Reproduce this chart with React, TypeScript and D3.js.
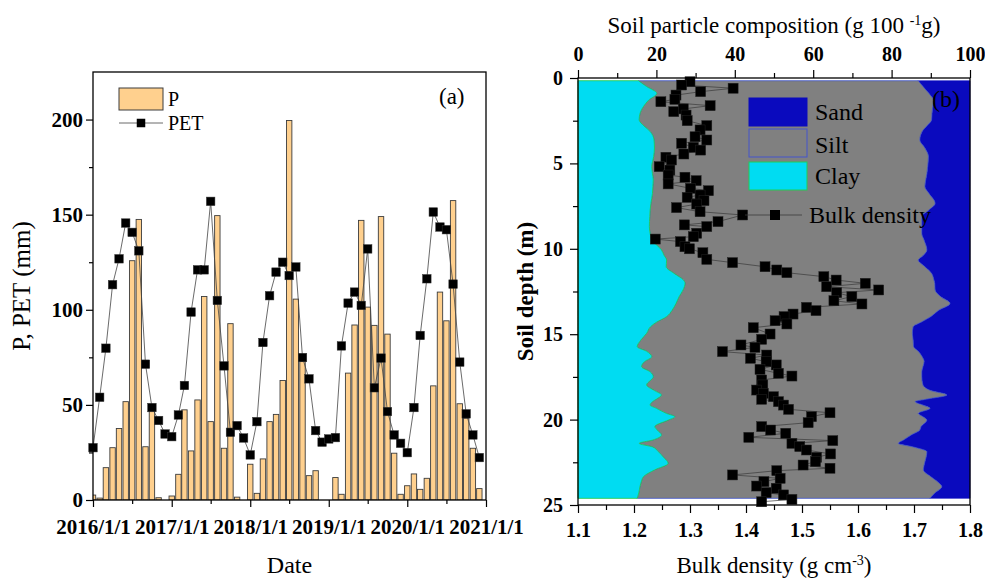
import * as d3 from "d3";
import { useEffect, useRef } from "react";

const FONT = "'Liberation Serif', 'Times New Roman', serif";

// ---- panel (a): monthly P and PET, 2016-2020 ----
const years = [2016, 2017, 2018, 2019, 2020];
const dateTickLabels = ["2016/1/1", "2017/1/1", "2018/1/1", "2019/1/1", "2020/1/1", "2021/1/1"];
const pTicks = [0, 50, 100, 150, 200];

// precipitation (mm), Jan..Dec for each year
const precip = [
  2.6, 1.0, 17, 27.5, 37.6, 51.7, 125.8, 147.5, 28, 48.5, 1.2, 0,
  2.1, 13.5, 47.4, 25.8, 52.6, 107, 41.2, 149.5, 27.2, 92.7, 1.5, 0,
  18.8, 3.5, 21.6, 41.2, 45, 62.8, 199.5, 105.6, 72.8, 12.8, 15.4, 0,
  0, 11.8, 3, 66.7, 92, 147, 101.4, 91.8, 149, 87.2, 24.6, 3,
  7.5, 13.7, 5.6, 11.4, 60, 109.3, 94.2, 157.4, 50.6, 43, 27.2, 6,
];

// potential evapotranspiration (mm)
const pet = [
  27.5, 54, 79.8, 113.2, 126.8, 145.6, 140.7, 131, 71.4, 48.6, 41.8, 34.7,
  33.3, 44.7, 60.2, 98.8, 121, 121, 157, 104.9, 70.5, 35.6, 39.1, 32.6,
  23.7, 41.2, 82.8, 107.4, 119.8, 125, 118, 122.5, 74.9, 63.7, 36.5, 30.4,
  32.1, 32.8, 81, 103.5, 109.3, 102.3, 132, 59, 74.6, 46.5, 34.2, 29.8,
  24.9, 48.6, 86.5, 116.3, 151.4, 143.5, 142.1, 113.5, 72.5, 45.3, 34.2, 22.3,
];

// ---- panel (b): soil profile ----
const depthTicks = [0, 5, 10, 15, 20, 25];
const compTicks = [0, 20, 40, 60, 80, 100];
const bdTicks = [1.1, 1.2, 1.3, 1.4, 1.5, 1.6, 1.7, 1.8];

const layerDepth = [
  0.16, 0.5, 0.9, 1.3, 1.67, 2.1, 2.45, 2.8, 3.13, 3.63,
  4.1, 4.6, 5.19, 5.6, 5.97, 6.36, 6.75, 7.34, 7.73, 8.12,
  8.7, 9.1, 9.5, 10.07, 10.4, 10.66, 11.05, 11.44, 11.83, 12.02,
  12.41, 12.8, 13.2, 13.6, 13.97, 14.3, 14.56, 14.95, 15.35, 15.73,
  16.0, 16.32, 16.6, 16.9, 17.2, 17.49, 17.97, 18.3, 18.56, 18.8,
  18.95, 19.15, 19.34, 19.64, 19.83, 20.03, 20.41, 20.61, 20.9, 21.2,
  21.39, 21.6, 21.88, 22.2, 22.56, 22.95, 23.34, 23.6, 23.93, 24.3,
  24.61,
];
const clay = [
  15.4, 17.5, 20.1, 18.0, 16.7, 15.8, 15.6, 16.8, 18.4, 19.4,
  19.5, 19.3, 18.8, 19.0, 19.2, 19.1, 19.0, 18.6, 18.4, 18.3,
  18.2, 18.4, 18.9, 21.3, 22.0, 22.6, 22.5, 24.5, 26.9, 27.3,
  26.8, 25.8, 25.0, 24.0, 22.6, 20.0, 18.5, 17.5, 16.0, 15.1,
  17.5, 18.8, 17.0, 16.2, 18.4, 19.2, 17.5, 19.5, 21.3, 20.0,
  19.0, 18.4, 20.0, 22.6, 24.7, 23.0, 19.6, 20.2, 21.3, 19.0,
  15.6, 19.0, 20.5, 21.8, 23.0, 19.5, 16.7, 16.2, 15.8, 15.5,
  15.1,
];
const sand = [
  13.2, 12.0, 10.5, 9.4, 9.5, 9.7, 9.8, 11.0, 12.2, 12.8,
  11.5, 10.6, 10.8, 11.0, 11.3, 11.5, 10.5, 8.9, 10.5, 12.3,
  12.3, 12.3, 11.7, 11.0, 12.0, 13.2, 11.5, 9.8, 9.2, 9.0,
  8.9, 7.5, 5.1, 8.0, 10.0, 12.5, 14.5, 14.7, 14.5, 14.4,
  13.2, 12.2, 11.7, 12.0, 12.3, 12.3, 12.0, 10.0, 5.9, 11.0,
  14.0, 12.0, 10.2, 13.2, 12.0, 11.0, 12.5, 12.8, 15.0, 17.0,
  18.3, 14.5, 11.0, 11.2, 11.6, 11.9, 10.0, 8.5, 7.2, 9.0,
  10.2,
];

const bdDepth = [
  0.22, 0.41, 0.6, 0.8, 1.0, 1.25, 1.39, 1.62, 1.81, 1.97,
  2.17, 2.5, 2.79, 3.04, 3.44, 3.63, 3.82, 4.06, 4.22, 4.45,
  4.64, 4.8, 5.19, 5.39, 5.68, 5.81, 6.01, 6.2, 6.46, 6.6,
  6.85, 6.99, 7.18, 7.38, 7.59, 7.83, 8.02, 8.41, 8.6, 8.7,
  9.09, 9.29, 9.43, 9.58, 9.88, 10.0, 10.23, 10.62, 10.81, 11.05,
  11.24, 11.4, 11.63, 11.83, 12.02, 12.22, 12.41, 12.57, 12.8, 13.04,
  13.23, 13.43, 13.62, 13.82, 13.97, 14.21, 14.4, 14.62, 14.99, 15.3,
  15.63, 15.77, 16.02, 16.22, 16.41, 16.61, 16.8, 17.06, 17.29, 17.45,
  17.68, 17.97, 18.27, 18.46, 18.66, 18.81, 18.95, 19.15, 19.4, 19.6,
  19.83, 20.18, 20.41, 20.61, 20.8, 21.04, 21.23, 21.39, 21.58, 21.78,
  22.01, 22.21, 22.46, 22.66, 22.85, 22.99, 23.24, 23.44, 23.63, 23.89,
  24.02, 24.28, 24.41, 24.67, 24.81,
];
const bulkDensity = [
  1.3, 1.285, 1.377, 1.319, 1.275, 1.273, 1.248, 1.336, 1.288, 1.271,
  1.293, 1.295, 1.33, 1.318, 1.309, 1.33, 1.285, 1.306, 1.319, 1.289,
  1.257, 1.267, 1.245, 1.264, 1.261, 1.291, 1.311, 1.261, 1.301, 1.333,
  1.318, 1.295, 1.325, 1.312, 1.276, 1.318, 1.394, 1.35, 1.29, 1.33,
  1.312, 1.306, 1.238, 1.283, 1.291, 1.299, 1.323, 1.33, 1.376, 1.434,
  1.455, 1.473, 1.539, 1.561, 1.613, 1.544, 1.637, 1.562, 1.589, 1.557,
  1.607, 1.508, 1.525, 1.484, 1.468, 1.452, 1.473, 1.413, 1.443, 1.428,
  1.391, 1.416, 1.358, 1.437, 1.408, 1.436, 1.454, 1.425, 1.458, 1.482,
  1.428, 1.43, 1.419, 1.431, 1.449, 1.428, 1.458, 1.467, 1.476, 1.55,
  1.517, 1.511, 1.428, 1.444, 1.471, 1.405, 1.555, 1.482, 1.496, 1.508,
  1.551, 1.526, 1.524, 1.502, 1.55, 1.455, 1.376, 1.461, 1.432, 1.419,
  1.454, 1.436, 1.467, 1.482, 1.428,
];

const barColor = "#FFD08E";
const sandColor = "#0A0ABE";
const siltColor = "#808080";
const clayColor = "#00DCF2";

type Sel = d3.Selection<SVGGElement, unknown, null, undefined>;

function styleAxis(g: Sel, size: number, bold: boolean) {
  g.select(".domain").remove();
  g.selectAll("line").attr("stroke", "#000").attr("stroke-width", 1.2);
  g.selectAll("text")
    .attr("font-family", FONT)
    .attr("font-size", size)
    .attr("font-weight", bold ? "bold" : "normal")
    .attr("fill", "#000");
}

function drawA(svg: d3.Selection<SVGSVGElement, unknown, null, undefined>) {
  const L = 93, R = 486, T = 72, B = 500;
  const months = years.flatMap((y) => d3.range(12).map((m) => new Date(y, m, 1)));
  const x = d3.scaleTime().domain([new Date(2016, 0, 1), new Date(2021, 0, 1)]).range([L, R]);
  const y = d3.scaleLinear().domain([0, 225]).range([B, T]);

  const g = svg.append("g");
  g.append("clipPath").attr("id", "clipA")
    .append("rect").attr("x", L).attr("y", T).attr("width", R - L).attr("height", B - T);

  const plot = g.append("g").attr("clip-path", "url(#clipA)");
  const bw = 5.4;
  plot.selectAll("rect").data(precip).join("rect")
    .attr("x", (_, i) => x(months[i]) - bw / 2)
    .attr("y", (d) => y(d))
    .attr("width", bw)
    .attr("height", (d) => y(0) - y(d))
    .attr("fill", barColor)
    .attr("stroke", "#3c3c3c")
    .attr("stroke-width", 0.9);

  const line = d3.line<number>().x((_, i) => x(months[i])).y((d) => y(d));
  g.append("path").datum(pet).attr("d", line).attr("fill", "none")
    .attr("stroke", "#444").attr("stroke-width", 0.8);
  const ms = 8.5;
  g.selectAll("rect.pet").data(pet).join("rect").attr("class", "pet")
    .attr("x", (_, i) => x(months[i]) - ms / 2)
    .attr("y", (d) => y(d) - ms / 2)
    .attr("width", ms).attr("height", ms)
    .attr("fill", "#000").attr("stroke", "#333").attr("stroke-width", 0.5);

  // axes
  const yearDates = dateTickLabels.map((_, i) => new Date(2016 + i, 0, 1));
  const gx = g.append("g").attr("transform", `translate(0,${B})`)
    .call(d3.axisBottom(x).tickValues(yearDates).tickFormat((_, i) => dateTickLabels[i])
      .tickSize(7).tickPadding(12));
  styleAxis(gx as Sel, 21, true);
  const gxm = g.append("g").attr("transform", `translate(0,${B})`)
    .call(d3.axisBottom(x).tickValues(years.map((yy) => new Date(yy, 6, 1))).tickFormat(() => "").tickSize(4));
  styleAxis(gxm as Sel, 21, true);

  const gy = g.append("g").attr("transform", `translate(${L},0)`)
    .call(d3.axisLeft(y).tickValues(pTicks).tickSize(7).tickPadding(3));
  styleAxis(gy as Sel, 21, true);
  const gym = g.append("g").attr("transform", `translate(${L},0)`)
    .call(d3.axisLeft(y).tickValues([25, 75, 125, 175]).tickFormat(() => "").tickSize(4));
  styleAxis(gym as Sel, 21, true);

  g.append("rect").attr("x", L).attr("y", T).attr("width", R - L).attr("height", B - T)
    .attr("fill", "none").attr("stroke", "#000").attr("stroke-width", 1.3);

  g.append("text").attr("transform", `translate(30,${(T + B) / 2}) rotate(-90)`)
    .attr("text-anchor", "middle").attr("font-family", FONT).attr("font-size", 25)
    .text("P, PET (mm)");
  g.append("text").attr("x", (L + R) / 2).attr("y", 573).attr("text-anchor", "middle")
    .attr("font-family", FONT).attr("font-size", 24).text("Date");

  // legend
  g.append("rect").attr("x", 119).attr("y", 88).attr("width", 44).attr("height", 22)
    .attr("fill", barColor).attr("stroke", "#3c3c3c").attr("stroke-width", 1);
  g.append("text").attr("x", 168).attr("y", 106).attr("font-family", FONT).attr("font-size", 20).text("P");
  g.append("line").attr("x1", 119).attr("x2", 163).attr("y1", 123).attr("y2", 123)
    .attr("stroke", "#444").attr("stroke-width", 0.8);
  g.append("rect").attr("x", 141 - ms / 2).attr("y", 123 - ms / 2).attr("width", ms).attr("height", ms)
    .attr("fill", "#000");
  g.append("text").attr("x", 168).attr("y", 130).attr("font-family", FONT).attr("font-size", 20).text("PET");
  g.append("text").attr("x", 439).attr("y", 104).attr("font-family", FONT).attr("font-size", 23).text("(a)");
}

function drawB(svg: d3.Selection<SVGSVGElement, unknown, null, undefined>) {
  const L = 578, R = 970, T = 78, B = 505;
  const xc = d3.scaleLinear().domain([0, 100]).range([L, R]);
  const xb = d3.scaleLinear().domain([1.1, 1.8]).range([L, R]);
  const y = d3.scaleLinear().domain([0, 25]).range([T, B]);

  const g = svg.append("g");
  const rows = layerDepth.map((d, i) => ({
    depth: d, clay: clay[i], silt: 100 - clay[i] - sand[i], sand: sand[i],
  }));
  const series = d3.stack<any>().keys(["clay", "silt", "sand"])(rows);
  const area = d3.area<any>()
    .curve(d3.curveMonotoneY)
    .y((d) => y(d.data.depth))
    .x0((d) => xc(d[0]))
    .x1((d) => xc(d[1]));
  const fills: Record<string, [string, string, number]> = {
    sand: [sandColor, sandColor, 0.6],
    silt: [siltColor, "#3A4FC8", 0.8],
    clay: [clayColor, "#22CC55", 0.9],
  };
  ["sand", "silt", "clay"].forEach((k) => {
    const s = series.find((ss) => ss.key === k)!;
    g.append("path").datum(s).attr("d", area)
      .attr("fill", fills[k][0]).attr("stroke", fills[k][1]).attr("stroke-width", fills[k][2]);
  });

  const line = d3.line<number>().x((d) => xb(d)).y((_, i) => y(bdDepth[i]));
  g.append("path").datum(bulkDensity).attr("d", line).attr("fill", "none")
    .attr("stroke", "#3a3a3a").attr("stroke-width", 0.7);
  const ms = 10;
  g.selectAll("rect.bd").data(bulkDensity).join("rect").attr("class", "bd")
    .attr("x", (d) => xb(d) - ms / 2)
    .attr("y", (_, i) => y(bdDepth[i]) - ms / 2)
    .attr("width", ms).attr("height", ms)
    .attr("fill", "#000").attr("stroke", "#222").attr("stroke-width", 0.5);

  // axes
  const gt = g.append("g").attr("transform", `translate(0,${T})`)
    .call(d3.axisTop(xc).tickValues(compTicks).tickSize(8).tickPadding(9));
  styleAxis(gt as Sel, 20, true);
  const gtm = g.append("g").attr("transform", `translate(0,${T})`)
    .call(d3.axisTop(xc).tickValues([10, 30, 50, 70, 90]).tickFormat(() => "").tickSize(5));
  styleAxis(gtm as Sel, 20, true);

  const gb = g.append("g").attr("transform", `translate(0,${B})`)
    .call(d3.axisBottom(xb).tickValues(bdTicks).tickFormat(d3.format(".1f")).tickSize(8).tickPadding(10));
  styleAxis(gb as Sel, 20, true);
  const gbm = g.append("g").attr("transform", `translate(0,${B})`)
    .call(d3.axisBottom(xb).tickValues([1.15, 1.25, 1.35, 1.45, 1.55, 1.65, 1.75]).tickFormat(() => "").tickSize(5));
  styleAxis(gbm as Sel, 20, true);

  const gl = g.append("g").attr("transform", `translate(${L},0)`)
    .call(d3.axisLeft(y).tickValues(depthTicks).tickSize(8).tickPadding(7));
  styleAxis(gl as Sel, 20, true);
  const glm = g.append("g").attr("transform", `translate(${L},0)`)
    .call(d3.axisLeft(y).tickValues([2.5, 7.5, 12.5, 17.5, 22.5]).tickFormat(() => "").tickSize(5));
  styleAxis(glm as Sel, 20, true);

  g.append("rect").attr("x", L).attr("y", T).attr("width", R - L).attr("height", B - T)
    .attr("fill", "none").attr("stroke", "#000").attr("stroke-width", 1.3);

  // titles
  const top = g.append("text").attr("x", (L + R) / 2).attr("y", 33).attr("text-anchor", "middle")
    .attr("font-family", FONT).attr("font-size", 23);
  top.append("tspan").text("Soil particle composition (g 100 ");
  top.append("tspan").attr("dy", -8).attr("font-size", 14).text("-1");
  top.append("tspan").attr("dy", 8).text("g)");

  const bot = g.append("text").attr("x", (L + R) / 2).attr("y", 573).attr("text-anchor", "middle")
    .attr("font-family", FONT).attr("font-size", 23);
  bot.append("tspan").text("Bulk density (g cm");
  bot.append("tspan").attr("dy", -8).attr("font-size", 14).text("-3");
  bot.append("tspan").attr("dy", 8).text(")");

  g.append("text").attr("transform", `translate(533,${(T + B) / 2}) rotate(-90)`)
    .attr("text-anchor", "middle").attr("font-family", FONT).attr("font-size", 23)
    .attr("font-weight", "bold").text("Soil depth (m)");

  // legend
  const leg: [string, string, string, number, number][] = [
    ["Sand", sandColor, sandColor, 98, 120],
    ["Silt", siltColor, "#4455CC", 129, 153],
    ["Clay", clayColor, "#22CC55", 162, 184],
  ];
  leg.forEach(([name, fill, stroke, yy, base]) => {
    g.append("rect").attr("x", 749).attr("y", yy).attr("width", 58).attr("height", 28)
      .attr("fill", fill).attr("stroke", stroke).attr("stroke-width", 1);
    g.append("text").attr("x", 815).attr("y", base).attr("font-family", FONT).attr("font-size", 24)
      .text(name);
  });
  g.append("line").attr("x1", 745).attr("x2", 802).attr("y1", 215).attr("y2", 215)
    .attr("stroke", "#3a3a3a").attr("stroke-width", 0.8);
  g.append("rect").attr("x", 775 - ms / 2).attr("y", 215 - ms / 2).attr("width", ms).attr("height", ms)
    .attr("fill", "#000");
  g.append("text").attr("x", 809).attr("y", 223).attr("font-family", FONT).attr("font-size", 24)
    .text("Bulk density");
  g.append("text").attr("x", 932).attr("y", 107).attr("font-family", FONT).attr("font-size", 24).text("(b)");
}

export default function App() {
  const ref = useRef<SVGSVGElement>(null);
  useEffect(() => {
    const svg = d3.select(ref.current!) as d3.Selection<SVGSVGElement, unknown, null, undefined>;
    svg.selectAll("*").remove();
    drawA(svg);
    drawB(svg);
  }, []);
  return (
    <svg
      ref={ref}
      width={985}
      height={583}
      style={{ position: "absolute", left: 0, top: 0, background: "#fff" }}
    />
  );
}
